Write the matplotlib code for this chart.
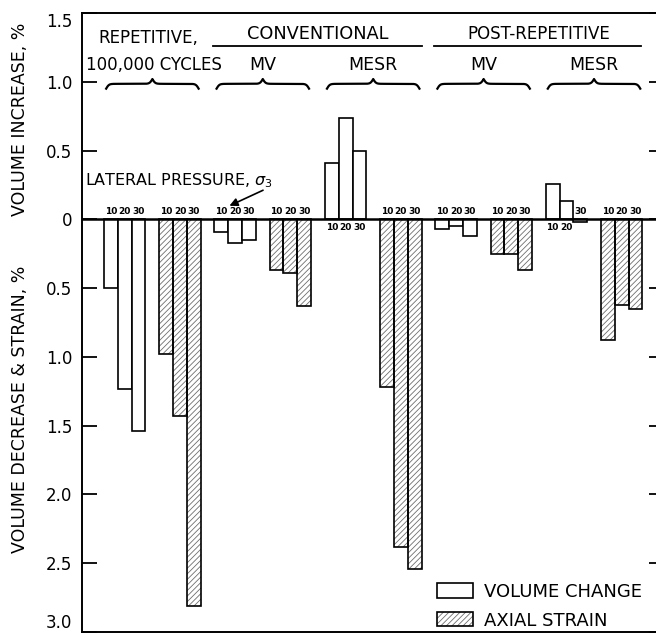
import numpy as np
import matplotlib
matplotlib.use('Agg')
import matplotlib.pyplot as plt
from matplotlib.patches import Patch
import matplotlib.transforms as mtransforms

# values in %, negative = volume decrease / axial strain
conditions = ["REPETITIVE", "CONV MV", "CONV MESR", "POST MV", "POST MESR"]
pressures = [10, 20, 30]
volume_change = [
    [-0.50, -1.23, -1.54],
    [-0.09, -0.17, -0.15],
    [0.41, 0.74, 0.50],
    [-0.07, -0.05, -0.12],
    [0.26, 0.13, -0.02],
]
axial_strain = [
    [-0.98, -1.43, -2.81],
    [-0.37, -0.39, -0.63],
    [-1.22, -2.38, -2.54],
    [-0.25, -0.25, -0.37],
    [-0.88, -0.62, -0.65],
]
yticks = [1.5, 1.0, 0.5, 0, -0.5, -1.0, -1.5, -2.0, -2.5, -3.0]

plt.rcParams['font.family'] = ['DejaVu Sans']
plt.rcParams['hatch.linewidth'] = 0.6

fig = plt.figure(figsize=(6.56, 6.36), dpi=100)
ax = fig.add_axes([82/656, 4/636, 582/656, 619/636])

hatch_col = '#6e6e6e'
for c in range(len(conditions)):
    xv = [8*c + j for j in range(3)]
    xa = [8*c + 4 + j for j in range(3)]
    ax.bar(xv, volume_change[c], width=1.0, facecolor='white', edgecolor='black', linewidth=1.2, zorder=2)
    ax.bar(xa, axial_strain[c], width=1.0, facecolor='white', edgecolor=hatch_col, hatch='//////', linewidth=0, zorder=2)
    ax.bar(xa, axial_strain[c], width=1.0, fill=False, edgecolor='black', linewidth=1.2, zorder=3)
    # pressure labels
    for xs, vals in ((xv, volume_change[c]), (xa, axial_strain[c])):
        for x, v, p in zip(xs, vals, pressures):
            if v >= 0.05:
                ax.text(x, -0.025, str(p), ha='center', va='top', fontsize=6.5, fontweight='bold')
            else:
                ax.text(x, 0.025, str(p), ha='center', va='bottom', fontsize=6.5, fontweight='bold')

ax.axhline(0, color='black', linewidth=1.8, zorder=4)

ax.set_xlim(-2.1, 40.07)
ax.set_ylim(-3.0, 1.5)
ax.set_xticks([])
ax.set_yticks(yticks)
ax.set_yticklabels(['0' if t == 0 else '%.1f' % abs(t) for t in yticks], fontsize=12)
ax.tick_params(axis='y', direction='in', length=11, width=1.3, pad=7, right=True)
lbls = ax.get_yticklabels()
lbls[0].set_va('top')
lbls[-1].set_va('bottom')
for s in ['left', 'top', 'bottom']:
    ax.spines[s].set_linewidth(1.4)
ax.spines['right'].set_visible(False)


def brace(xc, half, y0, h, beta=10.0):
    x = np.linspace(xc - half, xc + half, 401)
    xh = x[:201]
    yh = 1/(1 + np.exp(-beta*(xh - xh[0]))) + 1/(1 + np.exp(-beta*(xh - xh[-1])))
    y = np.concatenate((yh, yh[-2::-1]))
    ax.plot(x, y0 + (y - 0.5)*h, color='black', linewidth=1.6, clip_on=False)


# group headings
ax.text(2.7, 1.315, "REPETITIVE,", ha='center', va='center', fontsize=12)
ax.text(3.1, 1.12, "100,000 CYCLES", ha='center', va='center', fontsize=12)
ax.text(15, 1.345, "CONVENTIONAL", ha='center', va='center', fontsize=12.8)
ax.text(31, 1.345, "POST-REPETITIVE", ha='center', va='center', fontsize=12)
ax.plot([7.4, 22.5], [1.257, 1.257], color='black', linewidth=1.3)
ax.plot([23.4, 38.4], [1.257, 1.257], color='black', linewidth=1.3)
for xc, name in [(11, "MV"), (19, "MESR"), (27, "MV"), (35, "MESR")]:
    ax.text(xc, 1.12, name, ha='center', va='center', fontsize=12.5)
for xc in [3, 11, 19, 27, 35]:
    brace(xc, 3.35, 0.95, 0.07)

ax.text(-1.9, 0.25, r"LATERAL PRESSURE, $\sigma_3$", ha='left', va='baseline', fontsize=11.5)
ax.annotate("", xy=(8.4, 0.09), xytext=(11.2, 0.22),
            arrowprops=dict(arrowstyle='-|>', color='black', lw=1.2, mutation_scale=12))

trans = mtransforms.blended_transform_factory(ax.transAxes, ax.transData)
ax.text(-0.1065, 0.73, "VOLUME INCREASE, %", rotation=90, ha='center', va='center', fontsize=12.5, transform=trans)
ax.text(-0.1065, -1.38, "VOLUME DECREASE & STRAIN, %", rotation=90, ha='center', va='center', fontsize=12.5, transform=trans)

h_vol = Patch(facecolor='white', edgecolor='black', linewidth=1.2)
h_ax = (Patch(facecolor='white', edgecolor=hatch_col, hatch='//////', linewidth=0),
        Patch(fill=False, edgecolor='black', linewidth=1.2))
ax.legend([h_vol, h_ax], ["VOLUME CHANGE", "AXIAL STRAIN"], loc='lower right',
          bbox_to_anchor=(0.962, 0.004), frameon=False, fontsize=13, handlelength=2.0,
          handleheight=0.85, handletextpad=0.6, labelspacing=0.6, borderpad=0, borderaxespad=0)

plt.savefig("out.png", dpi=100)
